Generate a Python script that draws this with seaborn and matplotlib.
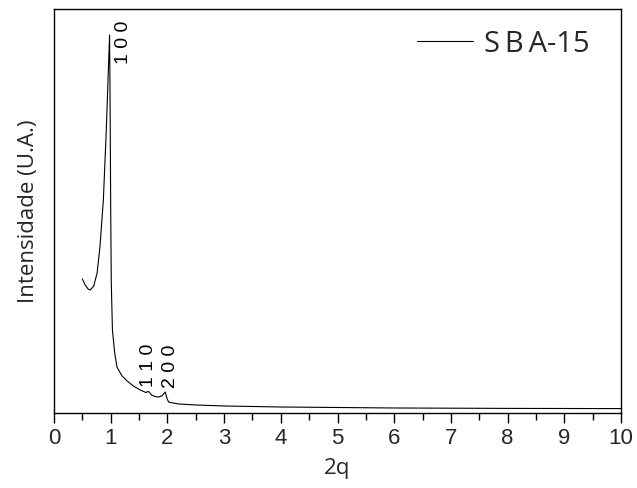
import numpy as np
import pandas as pd
import matplotlib
matplotlib.use("Agg")
import matplotlib.pyplot as plt
import seaborn as sns
from matplotlib.ticker import MultipleLocator, NullLocator

# Small-angle XRD pattern of SBA-15 (arbitrary intensity units)
two_theta = [0.50, 0.55, 0.60, 0.64, 0.70, 0.76, 0.81, 0.87, 0.92, 0.96,
             0.98, 0.99, 1.00, 1.01, 1.03, 1.07, 1.11, 1.20, 1.29, 1.40,
             1.52, 1.62, 1.66, 1.68, 1.72, 1.78, 1.84, 1.90, 1.94, 1.96,
             1.99, 2.02, 2.10, 2.20, 2.50, 3.00, 3.50, 4.00, 5.00, 6.00,
             7.00, 8.00, 9.00, 10.00]
intensity = [134, 128, 124, 123, 127, 140, 166, 213, 280, 346,
             378, 300, 200, 130, 83, 60, 46, 37, 32, 27,
             23, 20.5, 21.5, 21, 18, 16.5, 16, 17, 19.5, 21,
             15, 11, 10, 9, 8, 7, 6.5, 6, 5.5, 5,
             4.8, 4.6, 4.5, 4.4]

# Reflection indices and where they are written
peak_labels = ["1 0 0", "1 1 0", "2 0 0"]
peak_x = [1.22, 1.67, 2.06]
peak_y = [371, 48, 47]

series_name = "S\u2009B\u2009A-15"

df = pd.DataFrame({"2q": two_theta, "I": intensity})

sns.set_theme(style="white")
plt.rcParams["font.family"] = ["Liberation Sans", "DejaVu Sans"]

fig = plt.figure(figsize=(6.37, 4.88), dpi=100)
ax = fig.add_axes([0.0848, 0.1537, 0.8902, 0.8279])

sns.lineplot(data=df, x="2q", y="I", ax=ax, color="black", linewidth=0.8,
             label=series_name, sort=False, estimator=None)

ax.set_xlim(0, 10)
ax.set_ylim(0, 404)
ax.xaxis.set_major_locator(MultipleLocator(1))
ax.xaxis.set_minor_locator(MultipleLocator(0.5))
ax.yaxis.set_major_locator(NullLocator())
ax.tick_params(axis="x", which="major", direction="out", length=7, width=1,
               color="black", labelsize=16, pad=4, bottom=True, top=False)
ax.tick_params(axis="x", which="minor", direction="out", length=5, width=1,
               color="black", bottom=True, top=False)

for s in ax.spines.values():
    s.set_color("black")
    s.set_linewidth(1.0)

ax.set_xlabel("2q", fontsize=16, family=["Open Sans", "DejaVu Sans"], labelpad=6)
ax.set_ylabel("Intensidade (U.A.)", fontsize=16,
              family=["Open Sans", "DejaVu Sans"], labelpad=11)

for txt, x, y in zip(peak_labels, peak_x, peak_y):
    ax.text(x, y, txt, rotation=90, ha="center", va="center", fontsize=14,
            family="Liberation Sans", color="black")

leg = ax.legend(loc="center right", bbox_to_anchor=(0.944, 0.913),
                frameon=False, handlelength=1.95, handletextpad=0.35,
                borderaxespad=0, borderpad=0,
                prop={"family": ["Open Sans", "DejaVu Sans"], "size": 21})
for line in leg.get_lines():
    line.set_linewidth(0.8)

fig.savefig("out.png", dpi=100, facecolor="white")
